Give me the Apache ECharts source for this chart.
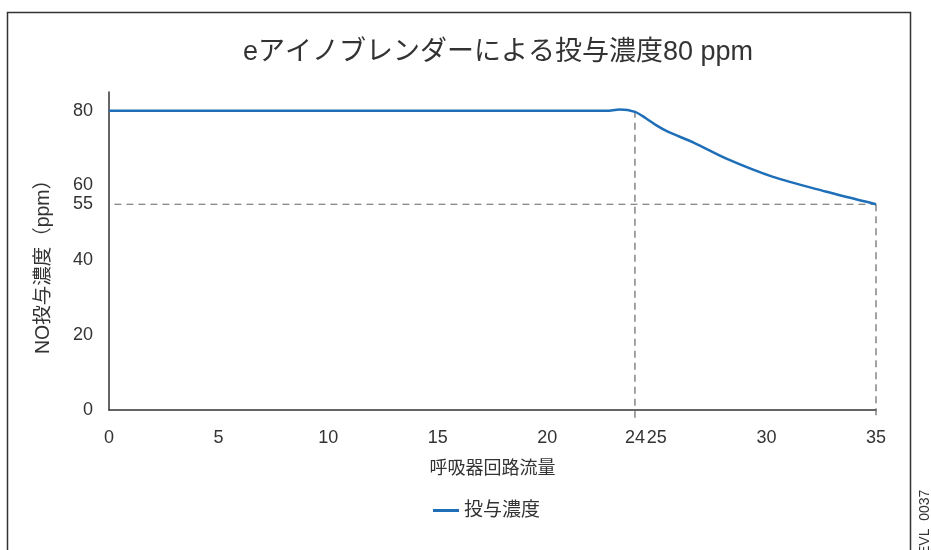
<!DOCTYPE html>
<html>
<head>
<meta charset="utf-8">
<script src="https://cdn.jsdelivr.net/npm/echarts@6/dist/echarts.min.js"></script>
<style>
  html, body { margin: 0; padding: 0; background: #fff; }
  #chart { width: 931px; height: 550px; }
</style>
</head>
<body>
<div id="chart"></div>
<script>
// Circuit flow (x) and delivered NO concentration (ppm)
const flowValues = [0, 5, 10, 15, 20, 22.7, 23.3, 24, 24.5, 25, 25.5, 26.7, 28.2, 30.3, 32.7, 35];
const doseValues = [80, 80, 80, 80, 80, 80, 80.3, 79.7, 78, 76, 74.4, 71.4, 67.1, 62.3, 58.4, 55];

// Tick labels
const xTickLabels = [0, 5, 10, 15, 20, 24, 25, 30, 35];
const yTickLabels = [0, 20, 40, 55, 60, 80];

// Reference guides: flow 24 at 80 ppm, flow 35 at 55 ppm
const guideFlowA = 24;
const guideFlowB = 35;
const guideDose = 55;
const guideDoseTop = 80;

const titleText = 'eアイノブレンダーによる投与濃度80 ppm';
const seriesName = '投与濃度';
const xName = '呼吸器回路流量';
const yName = 'NO投与濃度（ppm）';
const codeText = 'EVL_0037';

const font = '"Liberation Sans", "Noto Sans CJK JP", sans-serif';
const textColor = '#333';

const chart = echarts.init(document.getElementById('chart'));

const curve = flowValues.map((x, i) => [x, doseValues[i]]);
const dashStyle = { color: '#666', width: 1.2, type: [7, 5] };

chart.setOption({
  animation: false,
  title: {
    text: titleText,
    left: 238,
    top: 34,
    textStyle: { fontFamily: font, fontSize: 27, fontWeight: 'normal', color: textColor }
  },
  legend: {
    bottom: 30,
    left: 433,
    data: [seriesName],
    itemWidth: 26,
    itemHeight: 3,
    itemGap: 8,
    padding: 0,
    icon: 'rect',
    textStyle: { fontFamily: font, fontSize: 19, color: textColor }
  },
  grid: { left: 109, right: 55, top: 92, bottom: 140 },
  xAxis: {
    type: 'value',
    min: 0,
    max: 35,
    name: xName,
    nameLocation: 'middle',
    nameGap: 50,
    nameTextStyle: { fontFamily: font, fontSize: 18, color: textColor },
    axisLine: { lineStyle: { color: '#333', width: 1.5 } },
    axisTick: { show: false },
    splitLine: { show: false },
    axisLabel: {
      customValues: xTickLabels,
      fontFamily: font, fontSize: 18, color: textColor, margin: 19,
      formatter: v => String(v)
    }
  },
  yAxis: {
    type: 'value',
    min: 0,
    max: 85,
    name: yName,
    nameLocation: 'middle',
    nameGap: 56,
    nameTextStyle: { fontFamily: font, fontSize: 19.5, color: textColor, padding: [0, 22, 0, 0] },
    axisLine: { show: true, lineStyle: { color: '#333', width: 1.5 } },
    axisTick: { show: false },
    splitLine: { show: false },
    axisLabel: {
      customValues: yTickLabels,
      fontFamily: font, fontSize: 18, color: textColor, margin: 16,
      formatter: v => String(v)
    }
  },
  series: [
    {
      name: 'guideH',
      type: 'line',
      clip: false,
      silent: true,
      symbol: 'none',
      data: [[-0.3, guideDose], [guideFlowB, guideDose]],
      lineStyle: dashStyle,
      z: 1
    },
    {
      name: 'guideA',
      type: 'line',
      clip: false,
      silent: true,
      symbol: 'none',
      data: [[guideFlowA, guideDoseTop], [guideFlowA, -2.2]],
      lineStyle: dashStyle,
      z: 1
    },
    {
      name: 'guideB',
      type: 'line',
      clip: false,
      silent: true,
      symbol: 'none',
      data: [[guideFlowB, guideDose], [guideFlowB, -2.2]],
      lineStyle: dashStyle,
      z: 1
    },
    {
      name: seriesName,
      type: 'line',
      smooth: 0.3,
      symbol: 'none',
      data: curve,
      color: '#1f6fb8',
      lineStyle: { color: '#1f6fb8', width: 2.5 },
      z: 3
    }
  ],
  graphic: [
    {
      type: 'rect',
      shape: { x: 7.5, y: 12.5, width: 903, height: 560 },
      style: { fill: 'none', stroke: '#333', lineWidth: 1.5 },
      silent: true
    },
    {
      type: 'text',
      x: 925,
      y: 555,
      rotation: Math.PI / 2,
      style: {
        text: codeText,
        fontFamily: font,
        fontSize: 14,
        fill: '#333',
        align: 'left',
        verticalAlign: 'middle'
      },
      silent: true
    }
  ]
});
</script>
</body>
</html>
